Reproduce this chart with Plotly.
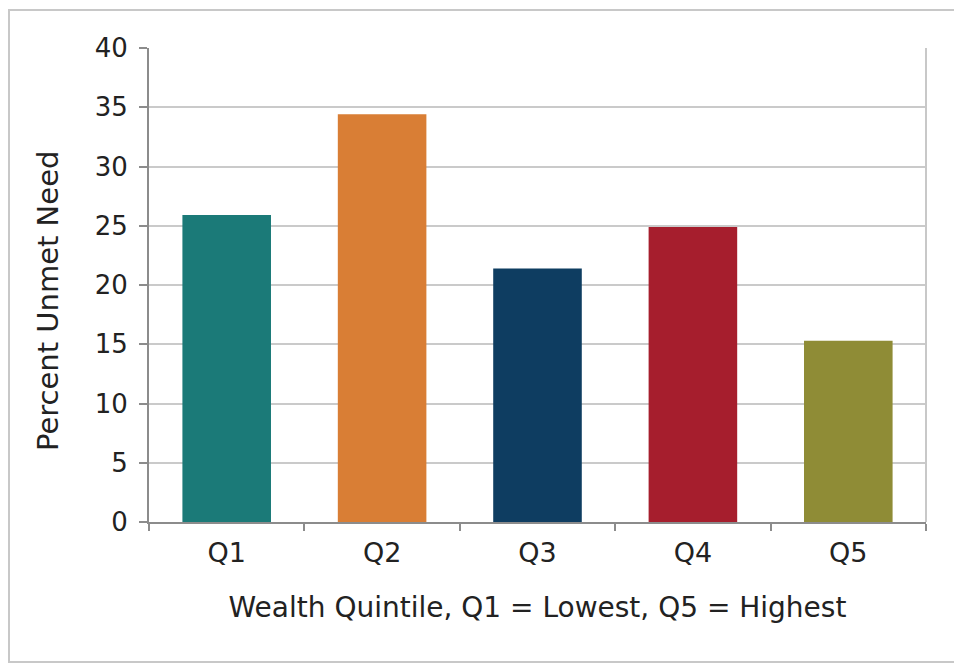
import plotly.graph_objects as go

categories = ["Q1", "Q2", "Q3", "Q4", "Q5"]
values = [25.9, 34.4, 21.4, 24.9, 15.3]
colors = ["#1b7a78", "#d97e35", "#0e3d61", "#a61e2d", "#8f8c36"]
y_ticks = [0, 5, 10, 15, 20, 25, 30, 35, 40]
x_title = "Wealth Quintile, Q1 = Lowest, Q5 = Highest"
y_title = "Percent Unmet Need"

W, H = 954, 665
ml, mr, mt, mb = 149, 28, 48, 143
pw, ph = W - ml - mr, H - mt - mb

FONT = "DejaVu Sans"

fig = go.Figure()
fig.add_trace(go.Bar(x=categories, y=values, marker=dict(color=colors, line=dict(width=0)),
                     width=0.57, showlegend=False))

def px_x(p):
    return (p - ml) / pw

def px_y(p):
    return (H - mb - p) / ph

fig.add_shape(type="rect", xref="paper", yref="paper",
              x0=px_x(9), x1=px_x(962), y0=px_y(662), y1=px_y(10),
              line=dict(color="#c8c8c8", width=2), layer="below")

fig.add_annotation(text=y_title, xref="paper", yref="paper",
                   x=px_x(48), y=px_y(301), xanchor="center", yanchor="middle",
                   textangle=-90, showarrow=False,
                   font=dict(family=FONT, size=29, color="#222222"))

fig.update_layout(
    width=W, height=H,
    margin=dict(l=ml, r=mr, t=mt, b=mb),
    paper_bgcolor="white", plot_bgcolor="white",
    font=dict(family=FONT, color="#222222", size=27),
    xaxis=dict(
        type="category", tickson="boundaries", ticks="outside", ticklen=7,
        tickcolor="#8c8c8c", tickwidth=2,
        showline=True, linecolor="#8c8c8c", linewidth=2, showgrid=False,
        tickfont=dict(size=27), ticklabelstandoff=6,
        title=dict(text=x_title, font=dict(size=28), standoff=30),
    ),
    yaxis=dict(
        range=[0, 40], tickvals=y_ticks, ticks="outside", ticklen=8,
        tickcolor="#8c8c8c", tickwidth=2,
        showline=True, linecolor="#8c8c8c", linewidth=2,
        showgrid=True, gridcolor="#cacaca", gridwidth=2,
        tickfont=dict(size=26), ticklabelstandoff=6,
        zeroline=False,
    ),
)
# right border of plot area
fig.add_shape(type="line", xref="paper", yref="paper", x0=1, x1=1, y0=0, y1=1,
              line=dict(color="#c8c8c8", width=2))

fig.write_html("out.html")
